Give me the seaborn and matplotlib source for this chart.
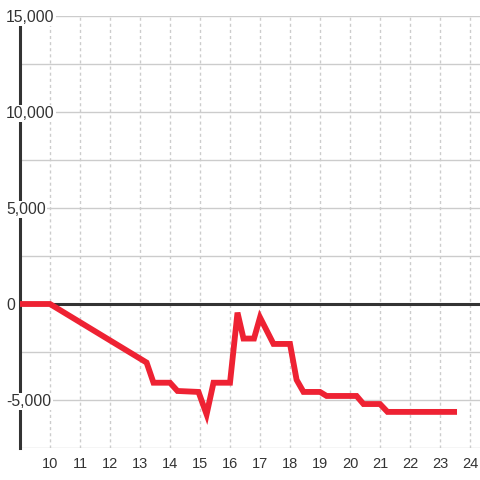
import matplotlib
matplotlib.use("Agg")
import matplotlib.pyplot as plt
import matplotlib.transforms as mtransforms
import seaborn as sns
from matplotlib.ticker import MultipleLocator, NullFormatter

# ---- data (hour of day, value) ----
hours = [9.0, 10.0, 13.22, 13.45, 14.0, 14.25, 14.95, 15.22, 15.45, 16.0,
         16.25, 16.45, 16.8, 17.0, 17.45, 18.0, 18.22, 18.45, 19.0, 19.22,
         20.22, 20.45, 21.0, 21.25, 23.47]
values = [0, 0, -3050, -4100, -4100, -4530, -4580, -5750, -4100, -4100,
          -450, -1800, -1800, -700, -2080, -2080, -3950, -4580, -4580, -4790,
          -4790, -5210, -5210, -5620, -5620]
x_ticks = list(range(10, 25))
y_ticks = [-5000, 0, 5000, 10000, 15000]
y_tick_labels = ["-5,000", "0", "5,000", "10,000", "15,000"]

sns.set_theme(style="white")
plt.rcParams["font.family"] = ["Liberation Sans", "DejaVu Sans"]

fig = plt.figure(figsize=(4.8, 4.8), dpi=100)
ax = fig.add_axes([20 / 480, 32 / 480, 460 / 480, 432 / 480])
ax.set_xlim(9, 9 + 460 / 30)
ax.set_ylim(-7500, 15000)

sns.lineplot(x=hours, y=values, ax=ax, color="#ee2233", lw=4.2,
             solid_capstyle="projecting", solid_joinstyle="miter",
             estimator=None, zorder=6)
ax.axhline(0, color="#333333", lw=2.2, zorder=3)

ax.set_xticks(x_ticks)
ax.set_yticks(y_ticks)
ax.yaxis.set_minor_locator(MultipleLocator(2500))
ax.yaxis.set_major_formatter(NullFormatter())
ax.grid(axis="y", which="both", color="#cccccc", lw=1, ls="-")
ax.grid(axis="x", which="major", color="#cccccc", lw=1, ls=(0, (2.2, 2.2)))

ax.tick_params(axis="y", which="both", length=0, pad=0)
ax.tick_params(axis="x", which="both", length=0, pad=6.5,
               labelsize=10.5, labelcolor="#333333")

# y tick labels: drawn over the left axis line with a white backing
trans = mtransforms.blended_transform_factory(ax.transAxes, ax.transData)
for yv, txt in zip(y_ticks, y_tick_labels):
    ax.text(-14 / 460, yv, txt, transform=trans, ha="left",
            va="center_baseline", fontsize=11.3, color="#333333", zorder=5,
            clip_on=False,
            bbox=dict(facecolor="white", edgecolor="none", pad=1.0))

for s in ["top", "right", "bottom"]:
    ax.spines[s].set_visible(False)
ax.spines["left"].set_bounds(-7500, 14580)
ax.spines["left"].set_color("#333333")
ax.spines["left"].set_linewidth(2.2)

ax.set_xlabel("")
ax.set_ylabel("")
fig.savefig("out.png", dpi=100)
